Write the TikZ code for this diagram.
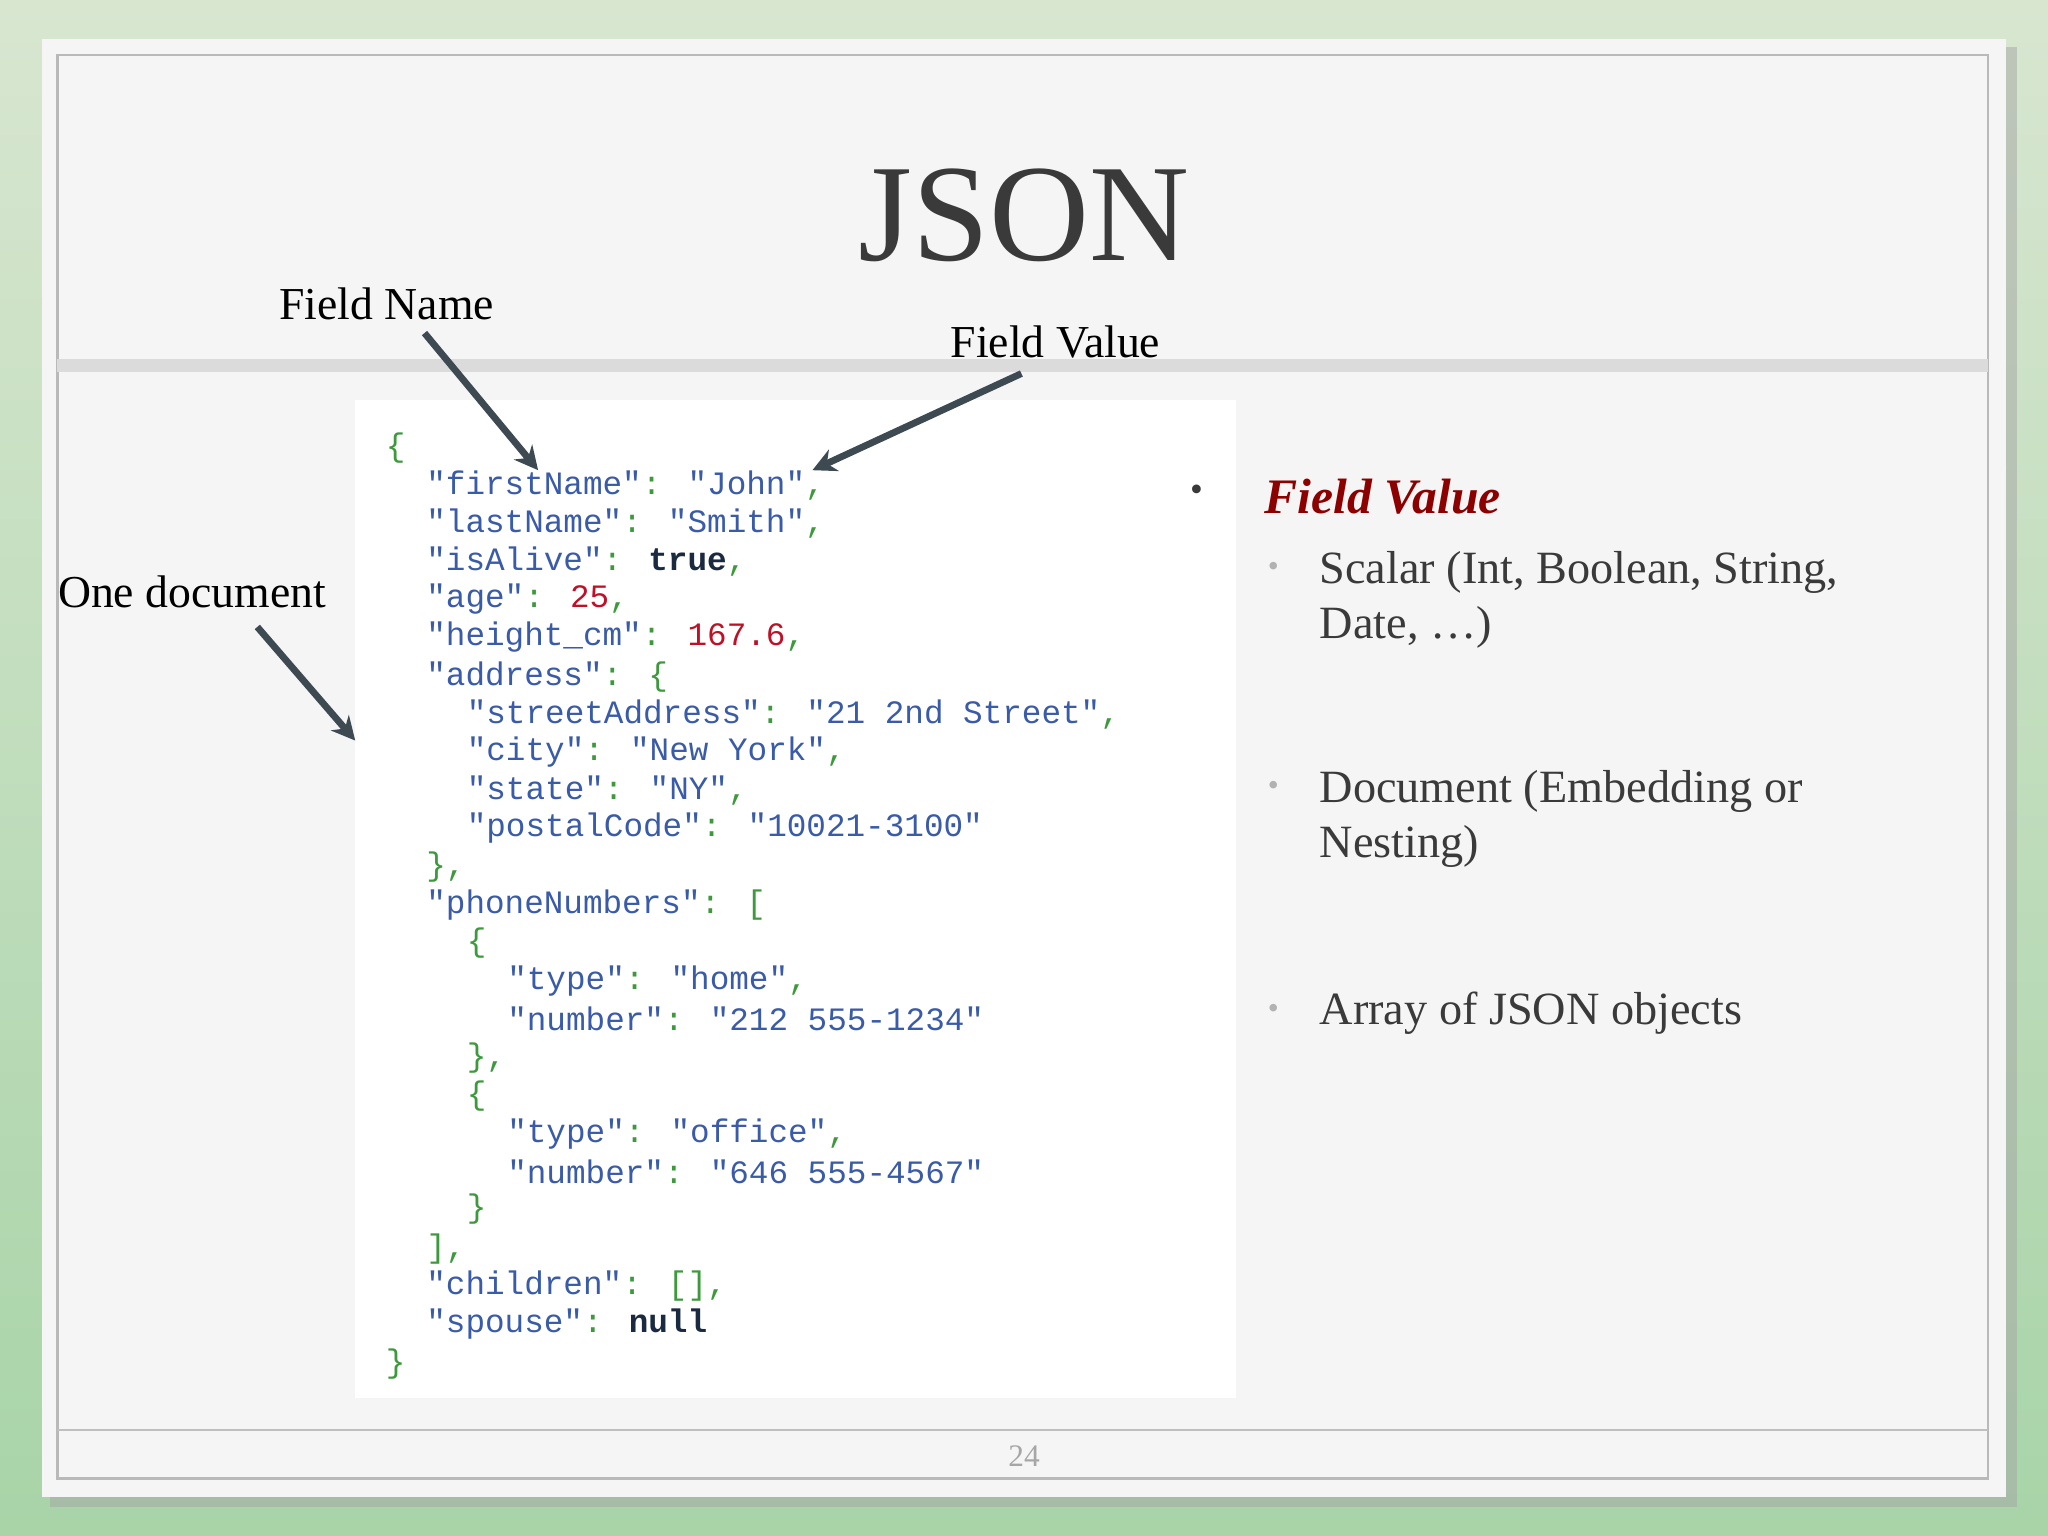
\documentclass[tikz,border=0pt]{standalone}
\usepackage{fontspec}
\setmainfont{Liberation Serif}
\newfontfamily\codefont{Liberation Mono}
\usetikzlibrary{arrows.meta}
\definecolor{keyc}{HTML}{3A5BA8}
\definecolor{punc}{HTML}{3C9A3C}
\definecolor{numc}{HTML}{C01028}
\definecolor{litc}{HTML}{1A2A40}
\definecolor{arrc}{HTML}{3D4A52}
\definecolor{txtc}{HTML}{3A3A3A}
\definecolor{bgtop}{HTML}{D8E6D0}
\definecolor{bgbot}{HTML}{A8D4A8}
\newcommand\jk[1]{\textcolor{keyc}{"#1"}}
\newcommand\jp[1]{\textcolor{punc}{#1}}
\newcommand\jn[1]{\textcolor{numc}{#1}}
\newcommand\jb[1]{\textcolor{litc}{\bfseries #1}}
\tikzset{
 code/.style={anchor=west,inner sep=0pt,font=\codefont\fontsize{12.5}{13}\selectfont},
 lbl/.style={inner sep=0pt,font=\fontsize{17.5}{19}\selectfont,text=black},
 arr/.style={draw=arrc,line width=2.6pt,-{Stealth[length=9pt,width=9pt]}},
 btxt/.style={anchor=west,inner sep=0pt,font=\fontsize{17.7}{19}\selectfont,text=txtc},
 sdot/.style={anchor=center,inner sep=0pt,font=\fontsize{12}{12}\selectfont,text=gray!60}
}
\begin{document}
\begin{tikzpicture}[x=0.5pt,y=-0.5pt]
\useasboundingbox (0,0) rectangle (1568,1176);
\shade[top color=bgtop,bottom color=bgbot] (0,0) rectangle (1568,1176);
\fill[black!35,opacity=0.5] (38,36) rectangle (1544,1154);
\fill[gray!8] (32,30) rectangle (1536,1146);
\draw[gray!55,line width=0.8pt] (44,42) rectangle (1522,1132);
\fill[gray!28] (44,275) rectangle (1522,285);
\draw[gray!50,line width=0.6pt] (44,1095) -- (1522,1095);
\node[inner sep=0pt,text=gray!70,font=\fontsize{12}{12}\selectfont] (pg) at (784,1115) {24};
\node[inner sep=0pt,text=txtc,font=\fontsize{53}{55}\selectfont] (title) at (784,165) {JSON};
\fill[white] (272,306) rectangle (946,1070);
% code
\node[code] (l0) at (295,343) {\jp{\{}};
\node[code] (l1) at (326,372) {\jk{firstName}\jp{:} \jk{John}\jp{,}};
\node[code] (l2) at (326,401) {\jk{lastName}\jp{:} \jk{Smith}\jp{,}};
\node[code] (l3) at (326,430) {\jk{isAlive}\jp{:} \jb{true}\jp{,}};
\node[code] (l4) at (326,459) {\jk{age}\jp{:} \jn{25}\jp{,}};
\node[code] (l5) at (326,488) {\jk{height\_cm}\jp{:} \jn{167.6}\jp{,}};
\node[code] (l6) at (326,518) {\jk{address}\jp{: \{}};
\node[code] (l7) at (357,547) {\jk{streetAddress}\jp{:} \jk{21 2nd Street}\jp{,}};
\node[code] (l8) at (357,576) {\jk{city}\jp{:} \jk{New York}\jp{,}};
\node[code] (l9) at (357,605) {\jk{state}\jp{:} \jk{NY}\jp{,}};
\node[code] (l10) at (357,634) {\jk{postalCode}\jp{:} \jk{10021-3100}};
\node[code] (l11) at (326,664) {\jp{\},}};
\node[code] (l12) at (326,693) {\jk{phoneNumbers}\jp{: [}};
\node[code] (l13) at (357,722) {\jp{\{}};
\node[code] (l14) at (388,751) {\jk{type}\jp{:} \jk{home}\jp{,}};
\node[code] (l15) at (388,780) {\jk{number}\jp{:} \jk{212 555-1234}};
\node[code] (l16) at (357,810) {\jp{\},}};
\node[code] (l17) at (357,839) {\jp{\{}};
\node[code] (l18) at (388,868) {\jk{type}\jp{:} \jk{office}\jp{,}};
\node[code] (l19) at (388,897) {\jk{number}\jp{:} \jk{646 555-4567}};
\node[code] (l20) at (357,926) {\jp{\}}};
\node[code] (l21) at (326,956) {\jp{],}};
\node[code] (l22) at (326,985) {\jk{children}\jp{: [],}};
\node[code] (l23) at (326,1014) {\jk{spouse}\jp{:} \jb{null}};
\node[code] (l24) at (295,1044) {\jp{\}}};
% labels and arrows
\node[lbl] (fn) at (296,233) {Field Name};
\node[lbl] (fv) at (808,262) {Field Value};
\node[lbl] (od) at (147,453) {One document};
\coordinate (fnt) at (412,360);
\coordinate (fvt) at (622,360);
\coordinate (odt) at (272,567);
\coordinate (fns) at (325,255);
\coordinate (fvs) at (782,286);
\coordinate (ods) at (197,480);
\draw[arr] (fns) -- (fnt);
\draw[arr] (fvs) -- (fvt);
\draw[arr] (ods) -- (odt);
% right bullets
\node[inner sep=0pt,text=txtc,font=\fontsize{14}{14}\selectfont] (b0) at (916,378) {•};
\node[anchor=west,inner sep=0pt,text=red!55!black,font=\fontsize{19}{20}\selectfont\bfseries\itshape] (h) at (968,380) {Field Value};
\node[sdot] (d1) at (975,436) {•};
\node[btxt] (t1a) at (1010,438) {Scalar (Int, Boolean, String,};
\node[btxt] (t1b) at (1010,480) {Date, …)};
\node[sdot] (d2) at (975,604) {•};
\node[btxt] (t2a) at (1010,606) {Document (Embedding or};
\node[btxt] (t2b) at (1010,648) {Nesting)};
\node[sdot] (d3) at (975,774) {•};
\node[btxt] (t3) at (1010,776) {Array of JSON objects};
\end{tikzpicture}
\end{document}
